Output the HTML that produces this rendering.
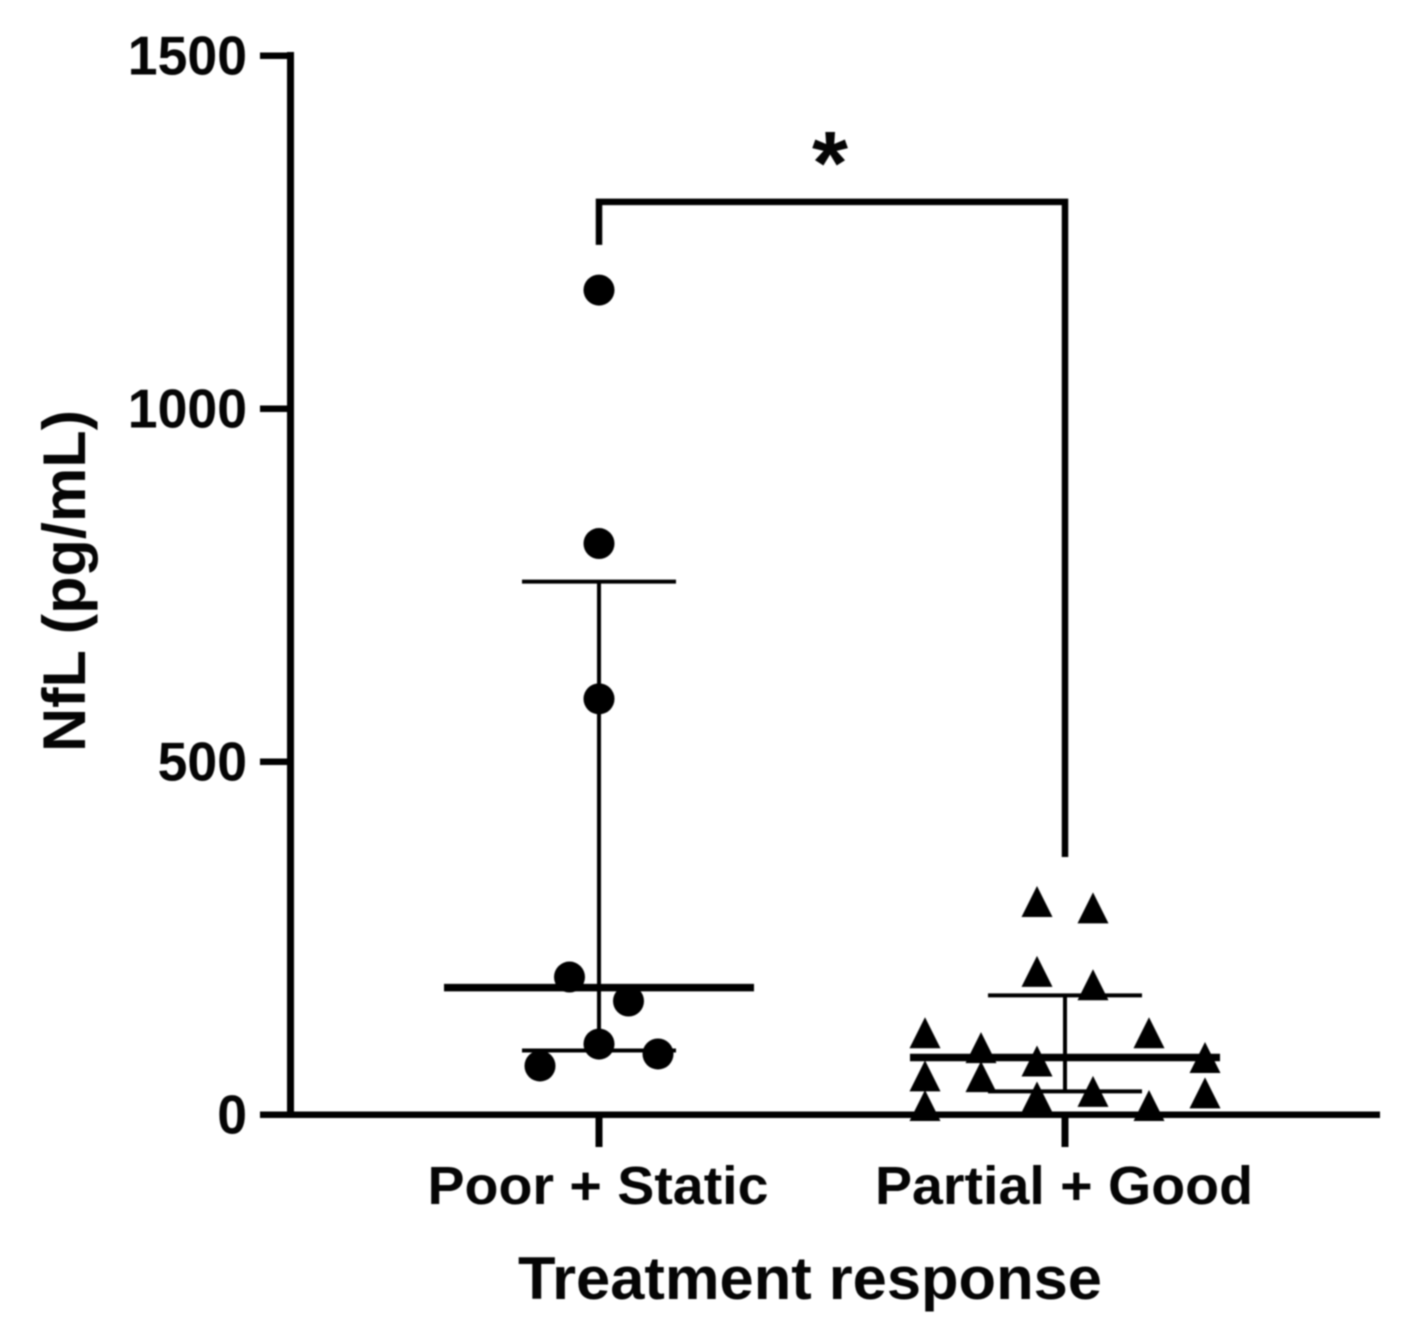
<!DOCTYPE html>
<html lang="en">
<head>
<meta charset="utf-8">
<title>NfL by treatment response</title>
<style>
html,body{margin:0;padding:0;background:#fff;width:1414px;height:1339px;overflow:hidden}
svg{display:block;filter:blur(.7px)}
text{font-family:"Liberation Sans",sans-serif;font-weight:700;fill:#050505}
</style>
</head>
<body>
<svg id="chart" width="1414" height="1339" viewBox="0 0 1414 1339" xmlns="http://www.w3.org/2000/svg"></svg>
<script>
const categories = ['Poor + Static', 'Partial + Good'];
const yTicks = [0, 500, 1000, 1500];
const poorValues = [1168, 809, 589, 195, 161, 100, 86, 69];
const poorSlots = [0, 0, 0, -1, 1, 0, 2, -2];
const goodValues = [302, 293, 203, 184, 116, 116, 95, 81, 76, 55, 54, 31, 33, 25, 13, 13];
const goodSlots = [-1, 1, -1, 1, -5, 3, -3, 5, -1, -5, -3, 5, 1, -1, -5, 3];
const medians = [180, 81];
const upperErrors = [755, 169];
const lowerErrors = [91, 33];
const bracketStart = 1232;
const bracketTop = 1293;
const bracketEnd = 365;

const svg = document.getElementById('chart');
const NS = 'http://www.w3.org/2000/svg';
const yScale = v => 1114.7 - v * 0.706;
const xScale = i => 599 + i * 466;

function add(tag, attrs, parent) {
  const el = document.createElementNS(NS, tag);
  for (const k in attrs) el.setAttribute(k, attrs[k]);
  (parent || svg).appendChild(el);
  return el;
}
function line(x1, y1, x2, y2, w) {
  return add('line', {x1, y1, x2, y2, stroke: '#000', 'stroke-width': w});
}
function label(str, x, y, size, len, transform) {
  const t = add('text', {x, y, 'font-size': size, 'text-anchor': 'middle', textLength: len, lengthAdjust: 'spacingAndGlyphs'});
  if (transform) t.setAttribute('transform', transform);
  t.textContent = str;
  return t;
}

// y axis
const yAxis = line(290.5, 52, 290.5, 1118, 7);


yTicks.forEach(v => {
  const tick = line(260, yScale(v), 291, yScale(v), 6.5);
  
  
  const s = String(v);
  const txt = label(s, 0, yScale(v) + 19, 55, s.length * 29.8);
  txt.setAttribute('text-anchor', 'end');
  txt.setAttribute('x', 247);
  
  
});

// x axis
const xAxis = line(260, yScale(0), 1380, yScale(0), 6.5);


const catLengths = [341, 378];
categories.forEach((c, i) => {
  const tick = line(xScale(i), 1114, xScale(i), 1147, 7);
  
  
  const txt = label(c, xScale(i) - 1, 1204, 54, catLengths[i]);
  
  
});

// axis titles
const xTitle = label('Treatment response', 810, 1299, 60, 584);


const yTitle = label('NfL (pg/mL)', 85, 581, 60, 342, 'rotate(-90 85 581)');



// points
poorValues.forEach((v, i) => {
  const c = add('circle', {cx: xScale(0) + poorSlots[i] * 29.5, cy: yScale(v), r: 15.5, fill: '#000'});
  
  
});
goodValues.forEach((v, i) => {
  const x = xScale(1) + goodSlots[i] * 28;
  const y = yScale(v);
  const p = add('polygon', {points: `${x},${y - 15.5} ${x + 15.5},${y + 15.5} ${x - 15.5},${y + 15.5}`, fill: '#000'});
  
  
});

// median and error bars
categories.forEach((c, i) => {
  const x = xScale(i);
  const up = yScale(upperErrors[i]);
  const lo = yScale(lowerErrors[i]);
  const stem = line(x, up, x, lo, 4);
  
  
  const upCap = line(x - 77, up, x + 77, up, 4);
  
  
  const loCap = line(x - 77, lo, x + 77, lo, 4);
  
  
  const med = line(x - 155, yScale(medians[i]), x + 155, yScale(medians[i]), 7.5);
  
  
});

// significance bracket
const bracket = add('polyline', {
  points: `${xScale(0)},${yScale(bracketStart)} ${xScale(0)},${yScale(bracketTop)} ${xScale(1)},${yScale(bracketTop)} ${xScale(1)},${yScale(bracketEnd)}`,
  fill: 'none', stroke: '#000', 'stroke-width': 6.5
});


const star = label('*', 830, 194, 90, 36);


</script>
</body>
</html>
